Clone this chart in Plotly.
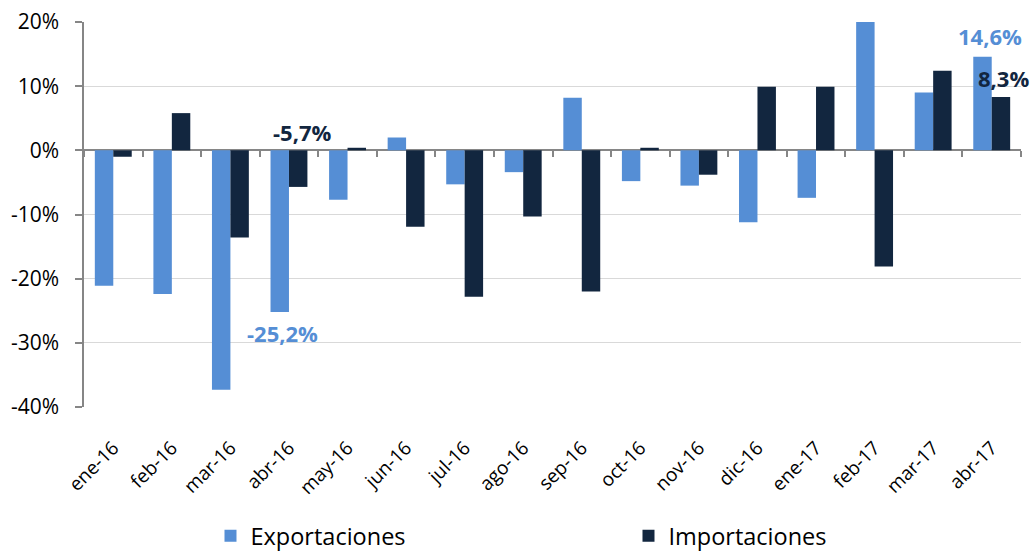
import plotly.graph_objects as go

categories = ["ene-16", "feb-16", "mar-16", "abr-16", "may-16", "jun-16", "jul-16", "ago-16",
              "sep-16", "oct-16", "nov-16", "dic-16", "ene-17", "feb-17", "mar-17", "abr-17"]
exportaciones = [-21.1, -22.4, -37.3, -25.2, -7.7, 2.0, -5.3, -3.4,
                 8.2, -4.8, -5.5, -11.2, -7.4, 20.3, 9.0, 14.6]
importaciones = [-1.0, 5.8, -13.6, -5.7, 0.4, -11.9, -22.8, -10.3,
                 -22.0, 0.4, -3.8, 9.9, 9.9, -18.1, 12.4, 8.3]
y_ticks = [-40, -30, -20, -10, 0, 10, 20]
y_ticktext = ["%d%%" % v for v in y_ticks]

c_exp = "#558ED5"
c_imp = "#12263F"
font_fam = "'Open Sans', sans-serif"

fig = go.Figure()
fig.add_trace(go.Bar(x=categories, y=exportaciones, name="Exportaciones",
                     marker=dict(color=c_exp, line=dict(width=0))))
fig.add_trace(go.Bar(x=categories, y=importaciones, name="Importaciones",
                     marker=dict(color=c_imp, line=dict(width=0))))
# invisible helper for tick marks on the zero line
fig.add_trace(go.Scatter(x=categories, y=[None] * len(categories), xaxis="x2",
                         showlegend=False, hoverinfo="skip", mode="lines"))

def fmt(v):
    return ("%.1f" % v).replace(".", ",") + "%"

lab_size = 22
ann = []
i = categories.index("abr-16")
ann.append(dict(x=categories[i], y=exportaciones[i], text="<b>" + fmt(exportaciones[i]) + "</b>",
                xshift=-6, yshift=-4, yanchor="top", showarrow=False,
                font=dict(color=c_exp, size=lab_size, family=font_fam)))
ann.append(dict(x=categories[i], y=0, text="<b>" + fmt(importaciones[i]) + "</b>",
                xshift=14, yshift=1, yanchor="bottom", showarrow=False,
                font=dict(color=c_imp, size=lab_size, family=font_fam)))
j = categories.index("abr-17")
ann.append(dict(x=categories[j], y=exportaciones[j], text="<b>" + fmt(exportaciones[j]) + "</b>",
                xshift=-2, yshift=4, yanchor="bottom", showarrow=False,
                font=dict(color=c_exp, size=lab_size, family=font_fam)))
ann.append(dict(x=categories[j], y=importaciones[j], text="<b>" + fmt(importaciones[j]) + "</b>",
                xshift=12, yshift=2, yanchor="bottom", showarrow=False,
                font=dict(color=c_imp, size=lab_size, family=font_fam)))

fig.update_layout(
    width=1034, height=552,
    margin=dict(l=84, r=13, t=22, b=145, autoexpand=False),
    paper_bgcolor="white", plot_bgcolor="white",
    barmode="group", bargap=0.37, bargroupgap=0,
    font=dict(family=font_fam, color="black"),
    annotations=ann,
    legend=dict(orientation="h", x=0.135, xanchor="left", y=-0.278, yanchor="top",
                font=dict(size=23.5, family=font_fam), entrywidth=373, entrywidthmode="pixels"),
    xaxis=dict(type="category", range=[-0.5, len(categories) - 0.5], tickangle=-45,
               tickfont=dict(size=19, family=font_fam), automargin=False,
               showline=False, ticks="", showgrid=False, ticklabelstandoff=25),
    xaxis2=dict(type="category", overlaying="x", matches="x", anchor="free",
                position=2 / 3, side="bottom", showticklabels=False, ticks="outside",
                tickson="boundaries", ticklen=6, tickcolor="#868686", tickwidth=1.5,
                showline=False, showgrid=False),
    yaxis=dict(range=[-40, 20], tickvals=y_ticks, ticktext=y_ticktext, automargin=False,
               tickfont=dict(size=21, family=font_fam), showgrid=True, gridcolor="#D9D9D9",
               gridwidth=1, zeroline=True, zerolinecolor="#868686", zerolinewidth=2,
               showline=True, linecolor="#868686", linewidth=1.5, ticks="outside",
               ticklen=7, tickcolor="#868686", tickwidth=1.5, ticklabelstandoff=12),
)

fig.write_html("out.html", config={"displayModeBar": False},
               post_script="document.body.style.margin='0';")
